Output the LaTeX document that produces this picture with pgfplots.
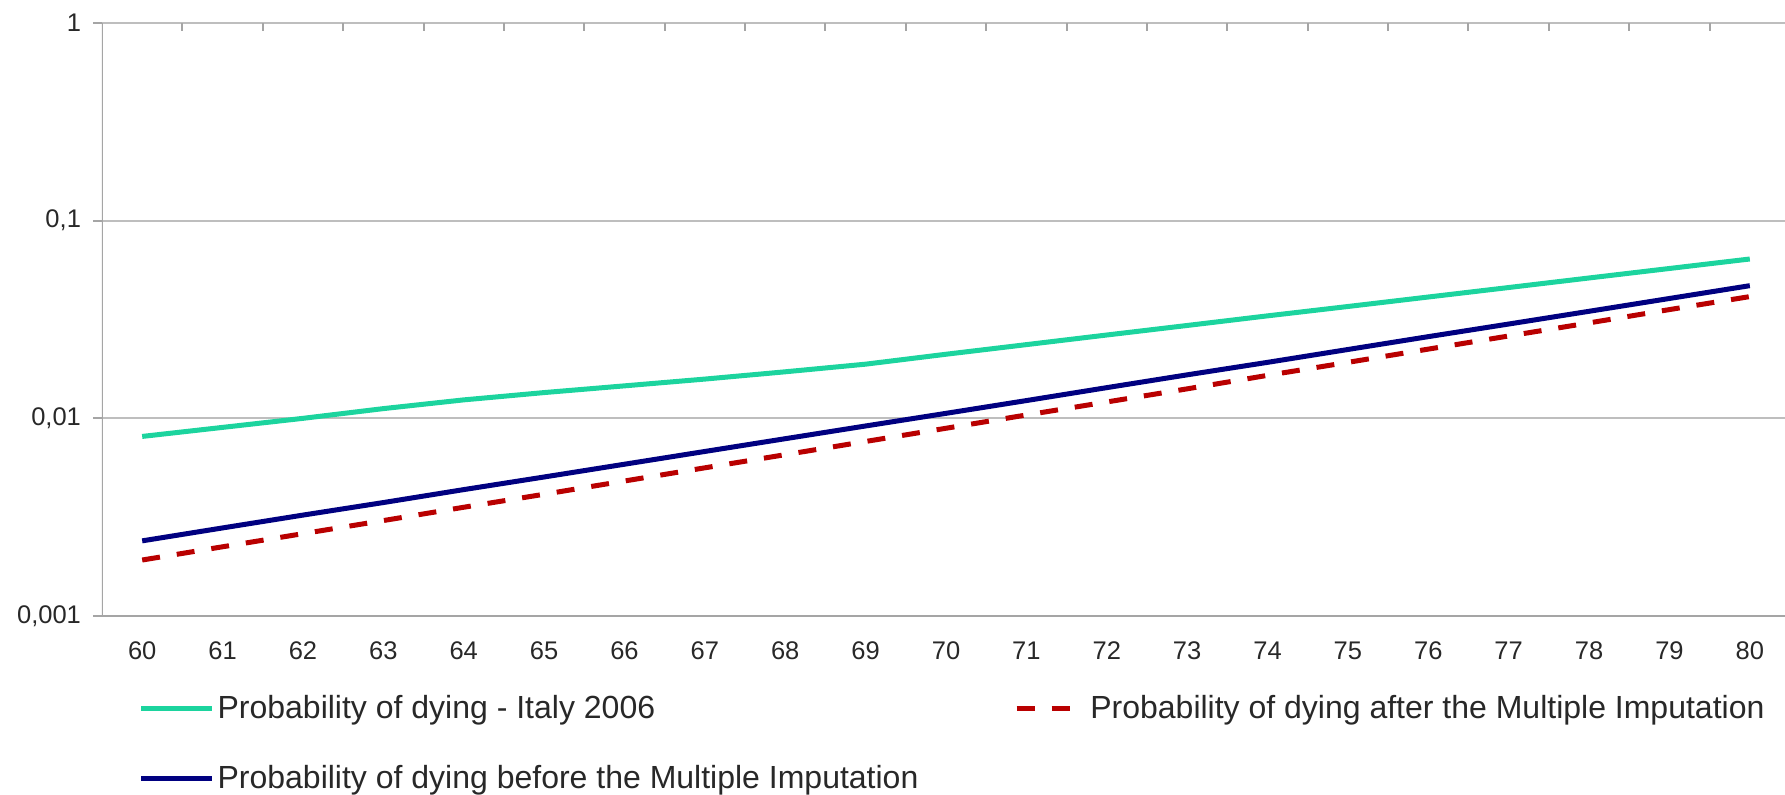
\documentclass[border=0pt]{standalone}
\usepackage{fontspec}
\setmainfont{Liberation Sans}
\usepackage{pgfplots}
\pgfplotsset{compat=1.18}
\definecolor{cgreen}{RGB}{28,212,158}
\definecolor{cnavy}{RGB}{0,0,128}
\definecolor{cred}{RGB}{185,0,0}
\definecolor{cgrid}{RGB}{190,190,190}
\definecolor{caxis}{RGB}{165,165,165}
\definecolor{ctext}{RGB}{40,40,40}

\pgfplotsset{
  solidlegend/.style={legend image code/.code={\draw[##1] (0pt,0pt) -- (35.5pt,0pt);}},
  dashlegend/.style={legend image code/.code={\path[draw=none] (0pt,0pt) -- (35.5pt,0pt);\draw[##1] (0pt,0pt) -- (27pt,0pt);}},
}

\pgfplotstableread{
age  p
60 0.0081
61 0.0090
62 0.0100
63 0.0112
64 0.0124
65 0.0135
66 0.0146
67 0.0158
68 0.0172
69 0.0188
70 0.0211
71 0.0236
72 0.0264
73 0.0295
74 0.0330
75 0.0368
76 0.0411
77 0.0459
78 0.0513
79 0.0573
80 0.0640
}\italy

\pgfplotstableread{
age  p
60 0.00192
61 0.00224
62 0.00261
63 0.00304
64 0.00355
65 0.00413
66 0.00482
67 0.00562
68 0.00655
69 0.00764
70 0.00891
71 0.0104
72 0.0121
73 0.0141
74 0.0165
75 0.0192
76 0.0224
77 0.0261
78 0.0304
79 0.0355
80 0.0413
}\after

\pgfplotstableread{
age  p
60 0.00240
61 0.00279
62 0.00324
63 0.00375
64 0.00436
65 0.00505
66 0.00586
67 0.00680
68 0.00789
69 0.00915
70 0.0106
71 0.0123
72 0.0143
73 0.0166
74 0.0192
75 0.0223
76 0.0259
77 0.0300
78 0.0348
79 0.0404
80 0.0469
}\before

\begin{document}
\begin{tikzpicture}
\begin{axis}[
  width=844pt, height=296.5pt, scale only axis,
  xmin=59.5, xmax=80.5,
  ymode=log, ymin=0.001, ymax=1,
  xtick={60,...,80},
  minor xtick={60.5,61.5,...,79.5},
  xtick pos=right, xticklabel pos=left,
  ytick={0.001,0.01,0.1,1},
  yticklabels={0{,}001,0{,}01,0{,}1,1},
  ytick pos=left,
  yminorticks=false,
  tick align=inside,
  major tick length=4.5pt,
  minor tick length=4pt,
  major x tick style={draw=none},
  every minor x tick/.style={caxis, line width=1pt},
  every major y tick/.style={caxis, line width=1pt, xshift=-4.5pt},
  ymajorgrids,
  major grid style={cgrid, line width=1pt},
  axis line style={draw=none},
  /pgf/number format/assume math mode=true,
  tick label style={font=\fontsize{12.75}{15}\selectfont, text=ctext},
  xticklabel style={yshift=-9.5pt},
  yticklabel style={xshift=-7pt},
  legend style={draw=none, fill=none, at={(axis description cs:0,0)}, anchor=north west,
    xshift=18.3pt, yshift=-39.4pt, inner sep=0pt,
    font=\fontsize{16}{19}\selectfont, text=ctext,
    nodes={inner sep=0pt},
    /tikz/every odd column/.append style={column sep=1.3pt},
    /tikz/every even column/.append style={column sep=47.9pt},
    row sep=21.8pt},
  legend columns=2,
  legend cell align=left,
]
\addplot[cgreen, line width=2.5pt, solidlegend] table[x=age, y=p] {\italy};
\addlegendentry{Probability of dying - Italy 2006}
\addplot[cred, line width=2.5pt, dash pattern=on 9pt off 8.5pt, dashlegend] table[x=age, y=p] {\after};
\addlegendentry{Probability of dying after the Multiple Imputation}
\addplot[cnavy, line width=2.5pt, solidlegend] table[x=age, y=p] {\before};
\addlegendentry{Probability of dying before the Multiple Imputation}
\draw[caxis, line width=1pt] (rel axis cs:0,0) -- (rel axis cs:0,1);
\draw[caxis, line width=1.5pt] (rel axis cs:0,0) -- (rel axis cs:1,0);
\coordinate (bl) at (rel axis cs:0,0);
\end{axis}
\pgfresetboundingbox
\path[use as bounding box] ([xshift=-51pt,yshift=-89pt]bl) rectangle ([xshift=841.5pt,yshift=308pt]bl);
\end{tikzpicture}
\end{document}
